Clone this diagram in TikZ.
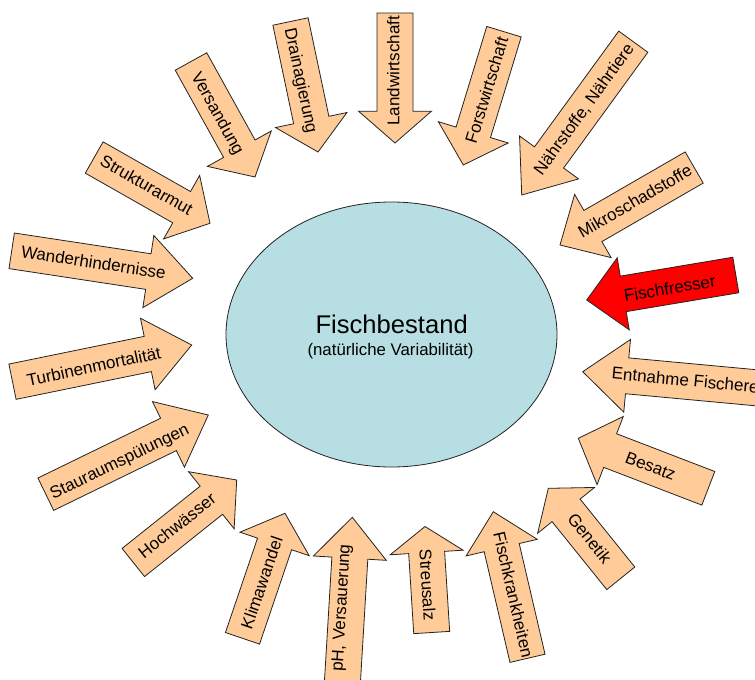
\documentclass[tikz,border=0pt]{standalone}
\usepackage{fontspec}
\setmainfont{Liberation Sans}
\usetikzlibrary{shapes.geometric}
\definecolor{arrowfill}{RGB}{255,204,153}
\definecolor{redfill}{RGB}{255,0,0}
\definecolor{ellfill}{RGB}{183,223,227}
\definecolor{edgecol}{RGB}{35,35,35}
\tikzset{
  blockarrow/.style={draw=edgecol, line width=0.8pt, line join=miter},
  lbl/.style={font=\fontsize{17}{20}\selectfont, inner sep=0pt, text height=12pt, text depth=3.5pt, text=black},
  stock/.style={draw=edgecol, line width=0.8pt, fill=ellfill, ellipse, inner sep=0pt},
  titletext/.style={font=\fontsize{25.6}{30}\selectfont, inner sep=0pt, anchor=base},
  subtext/.style={font=\fontsize{16.8}{20}\selectfont, inner sep=0pt, anchor=base}
}
\begin{document}
\begin{tikzpicture}[x=1pt,y=1pt]
\useasboundingbox (0,0) rectangle (755,-680);
\fill[white] (0,0) rectangle (755,-680);
\clip (0,0) rectangle (755,-680);
% central ellipse
\node[stock, minimum width=331pt, minimum height=265pt] (fisch) at (391.5,-334.5) {};
\node[titletext] (title) at (391.7,-333.3) {Fischbestand};
\node[subtext] (sub) at (390.5,-355.5) {(natürliche Variabilität)};
% block arrows: name / tail x / tail y / tip x / tip y / label / text x / text y / text rotation / fill
\foreach \nm/\tx/\ty/\px/\py/\lab/\cx/\cy/\rot/\fc in {
  versandung/191/61.5/255/177/Versandung/216.7/114.2/-61/arrowfill,
  drainage/290.5/21.5/318/152/Drainagierung/300/80.8/-78/arrowfill,
  landwirt/395/13/395/143/Landwirtschaft/395/70.8/90/arrowfill,
  forstwirt/504/31.7/463.3/165/Forstwirtschaft/488.3/90.8/73/arrowfill,
  naehr/633.3/41.7/521.7/195/{Nährstoffe, Nährtiere}/585/110/54/arrowfill,
  mikro/694.2/167.5/560/245/Mikroschadstoffe/635.8/202.5/30/arrowfill,
  fresser/735.8/275/586.7/300/Fischfresser/670/290/9.5/redfill,
  entnahme/764/388.5/582.7/371.7/Entnahme Fischerei/687/382/-5.5/arrowfill,
  besatz/708.3/488.3/578.3/438.3/Besatz/650/467.5/-21/arrowfill,
  genetik/620.8/578.3/548.3/488.3/Genetik/588.3/539.2/-51/arrowfill,
  krankheit/527.5/658.3/493.3/511.7/Fischkrankheiten/511.7/595/-77/arrowfill,
  streusalz/431.7/632.5/425/526.5/Streusalz/425.8/585/-86.4/arrowfill,
  ph/342.3/684/352.3/517.3/{pH, Versauerung}/342/608/86.6/arrowfill,
  klima/242.5/638.3/285/513.3/Klimawandel/263.3/583.3/71/arrowfill,
  hochwasser/133.3/562.5/236.7/480/Hochwässer/178/527/38.6/arrowfill,
  stauraum/45.8/494.2/208.3/415/Stauraumspülungen/120/462.5/26/arrowfill,
  turbinen/12.5/381.7/191.7/345/Turbinenmortalität/94.2/368.3/12/arrowfill,
  wander/11.7/250.8/192.7/278.3/Wanderhindernisse/93.3/264/-8.6/arrowfill,
  struktur/94.2/157.5/210/223.3/Strukturarmut/145.8/186.7/-29.6/arrowfill}
{
  \pgfmathsetmacro\dx{\px-\tx}
  \pgfmathsetmacro\dy{\ty-\py}
  \pgfmathsetmacro\ang{atan2(\dy,\dx)}
  \pgfmathsetmacro\len{veclen(\dx,\dy)}
  \pgfmathsetmacro\sl{0.755*\len}
  \begin{scope}[shift={(\tx,-\ty)},rotate=\ang]
    \draw[blockarrow, fill=\fc] (0,-18) -- (\sl,-18) -- (\sl,-36.5) -- (\len,0)
      -- (\sl,36.5) -- (\sl,18) -- (0,18) -- cycle;
  \end{scope}
  \node[lbl, rotate=\rot] (\nm) at (\cx,-\cy) {\lab};
}
\end{tikzpicture}
\end{document}
